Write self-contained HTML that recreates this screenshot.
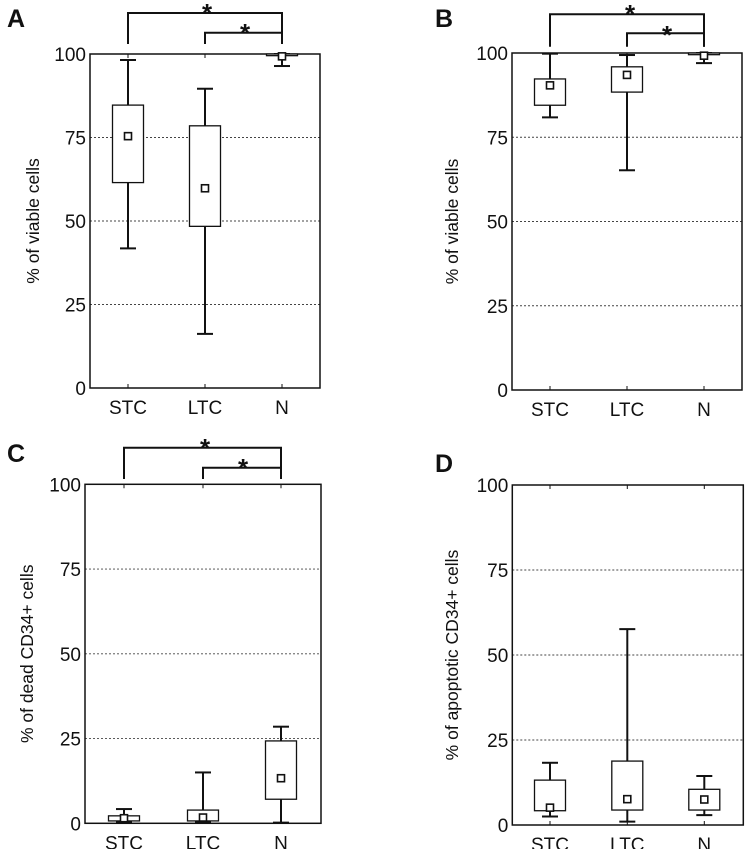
<!DOCTYPE html>
<html><head><meta charset="utf-8"><style>
html,body{margin:0;padding:0;background:#fff;}
svg{display:block;font-family:"Liberation Sans",Arial,sans-serif;}
</style></head><body>
<svg id="fig" width="750" height="849" viewBox="0 0 750 849"></svg>
<script>
const categories = ["STC","LTC","N"];
const yTicks = [0,25,50,75,100];
// each: [whiskerLow, q1, marker, q3, whiskerHigh]
const seriesA = [[41.8,61.5,75.4,84.7,98.2],[16.2,48.4,59.8,78.5,89.6],[96.4,99.5,99.3,100,100]];
const seriesB = [[80.9,84.5,90.4,92.3,99.8],[65.2,88.4,93.5,95.9,99.4],[97,99.5,99.2,100,100]];
const seriesC = [[0.3,0.7,1.5,2.2,4.2],[0.3,0.7,1.7,3.9,15],[0.2,7.1,13.3,24.3,28.5]];
const seriesD = [[2.5,4.2,5.1,13.2,18.3],[1.0,4.4,7.6,18.8,57.6],[2.9,4.4,7.5,10.5,14.4]];
const panelLabels = ["A","B","C","D"];
const yTitles = ["% of viable cells","% of viable cells","% of dead CD34+ cells","% of apoptotic CD34+ cells"];

const NS="http://www.w3.org/2000/svg";
const svg=document.getElementById('fig');
function mk(tag,attrs,parent){const e=document.createElementNS(NS,tag);for(const k in attrs)e.setAttribute(k,attrs[k]);(parent||svg).appendChild(e);return e;}

const panels=[
 {L:90,R:320,T:54,B:388,cx:[128,205,282],data:seriesA,lx:7,ly:27,tx:33,br:[13,32.7,44],stars:[[207,22],[245,42]]},
 {L:512,R:742,T:53,B:390,cx:[550,627,704],data:seriesB,lx:435,ly:27,tx:452,br:[14.3,33.3,46.7],stars:[[630,23],[667,44]]},
 {L:85,R:321,T:484.3,B:823.3,cx:[124,203,281],data:seriesC,lx:7,ly:462,tx:27,br:[447.7,467.7,479],stars:[[205,457],[243,477]]},
 {L:512.3,R:743.3,T:485,B:825,cx:[550,627.3,704.3],data:seriesD,lx:435,ly:472,tx:452,br:null,stars:[]}
];

panels.forEach((p,pi)=>{
  const g=mk('g',{});
  
  
  const y=v=>p.B-(v/100)*(p.B-p.T);
  yTicks.forEach(t=>{
    if(t>0&&t<100){const l=mk('line',{x1:p.L,x2:p.R,y1:y(t),y2:y(t),stroke:'#444','stroke-width':0.9,'stroke-dasharray':'2,2'},g);
      }
    const tx=mk('text',{x:p.L-4,y:y(t)+7,'text-anchor':'end','font-size':19,fill:'#111'},g);
    tx.textContent=t;
    
  });
  const frame=mk('rect',{x:p.L,y:p.T,width:p.R-p.L,height:p.B-p.T,fill:'none',stroke:'#111','stroke-width':1.5},g);
  
  categories.forEach((c,i)=>{
    const x=p.cx[i];
    mk('line',{x1:x,x2:x,y1:p.B,y2:p.B-4,stroke:'#111'},g);
    mk('line',{x1:x,x2:x,y1:p.T,y2:p.T+4,stroke:'#111'},g);
    const t=mk('text',{x:x,y:p.B+26,'text-anchor':'middle','font-size':19,fill:'#111'},g);
    t.textContent=c;
    
    const d=p.data[i];
    const bg=mk('g',{},g);
    
    mk('line',{x1:x,x2:x,y1:y(d[4]),y2:y(d[3]),stroke:'#111','stroke-width':2},bg);
    mk('line',{x1:x,x2:x,y1:y(d[1]),y2:y(d[0]),stroke:'#111','stroke-width':2},bg);
    mk('line',{x1:x-8,x2:x+8,y1:y(d[4]),y2:y(d[4]),stroke:'#111','stroke-width':2},bg);
    mk('line',{x1:x-8,x2:x+8,y1:y(d[0]),y2:y(d[0]),stroke:'#111','stroke-width':2},bg);
    mk('rect',{x:x-15.5,y:y(d[3]),width:31,height:Math.max(0.5,y(d[1])-y(d[3])),fill:'#fff',stroke:'#111','stroke-width':1.3},bg);
    mk('rect',{x:x-3.5,y:y(d[2])-3.5,width:7,height:7,fill:'#fff',stroke:'#111','stroke-width':1.6},bg);
  });
  const yt=mk('text',{x:p.tx,y:(p.T+p.B)/2,'text-anchor':'middle','font-size':17.5,fill:'#111',transform:`rotate(-90 ${p.tx} ${(p.T+p.B)/2})`,dy:6},g);
  yt.textContent=yTitles[pi];
  
  const pl=mk('text',{x:p.lx,y:p.ly,'font-size':25,'font-weight':'bold',fill:'#111'},g);
  pl.textContent=panelLabels[pi];
  
  if(p.br){
    const b1=mk('polyline',{points:`${p.cx[0]},${p.br[2]} ${p.cx[0]},${p.br[0]} ${p.cx[2]},${p.br[0]} ${p.cx[2]},${p.br[2]}`,fill:'none',stroke:'#111','stroke-width':2},g);
    
    const b2=mk('polyline',{points:`${p.cx[1]},${p.br[2]} ${p.cx[1]},${p.br[1]} ${p.cx[2]},${p.br[1]} ${p.cx[2]},${p.br[2]}`,fill:'none',stroke:'#111','stroke-width':2},g);
    
    p.stars.forEach(s=>{
      const st=mk('text',{x:s[0],y:s[1],'text-anchor':'middle','font-size':26,'font-weight':'bold',fill:'#111'},g);
      st.textContent='*';
      
    });
  }
});
</script>
</body></html>
